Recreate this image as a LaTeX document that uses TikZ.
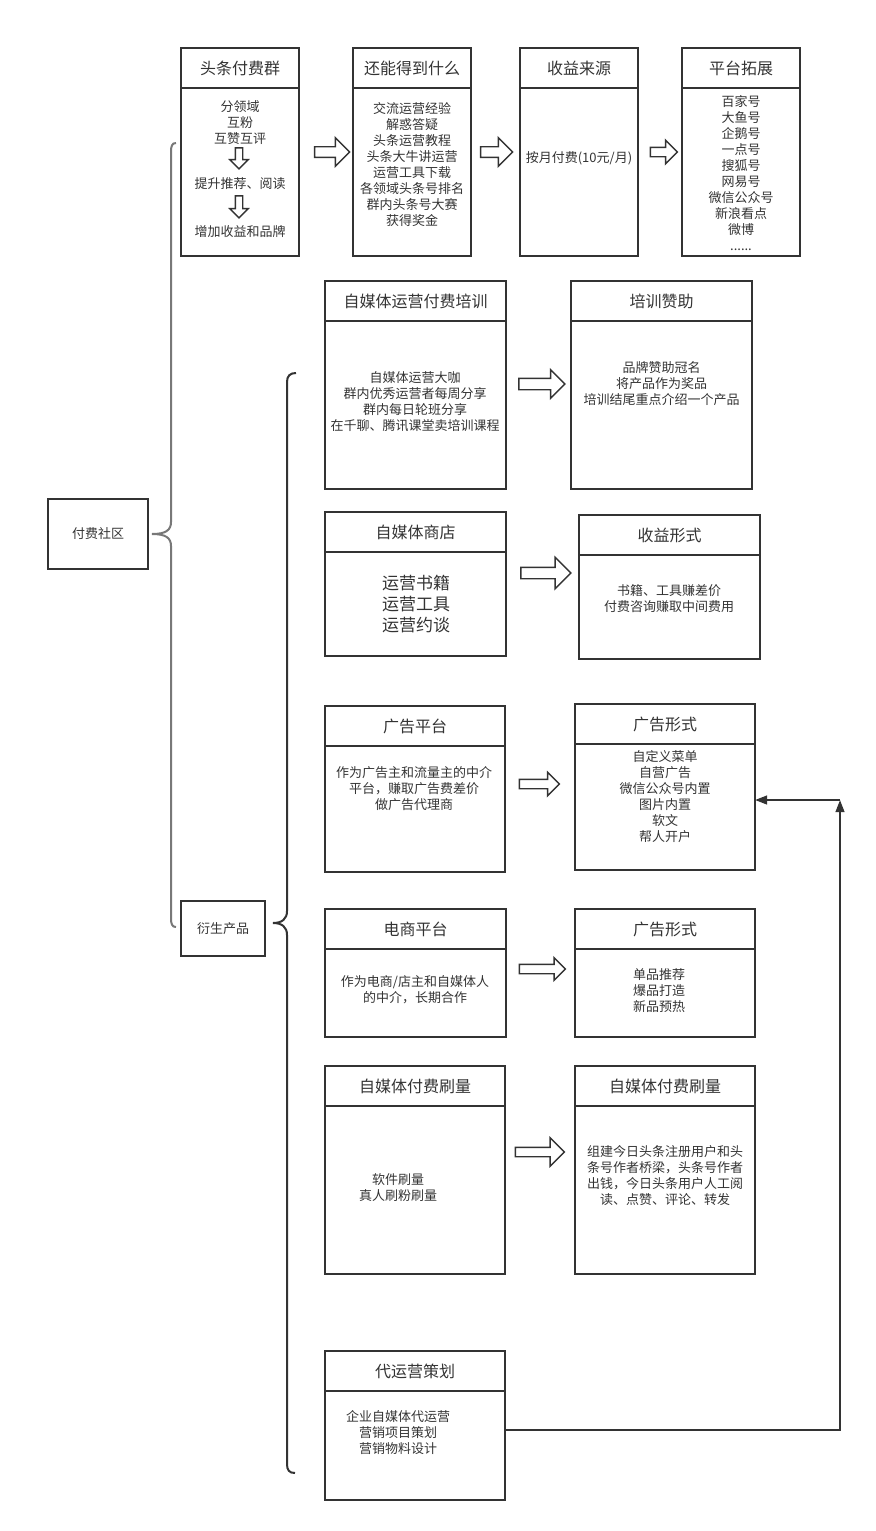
\documentclass[tikz,border=0pt]{standalone}
\usepackage{fontspec}
\setmainfont{Noto Sans CJK SC}
\usetikzlibrary{shapes.arrows, arrows.meta, positioning}
\definecolor{linegray}{RGB}{51, 51, 51}
\definecolor{bracegray}{RGB}{120, 120, 120}
\definecolor{textgray}{RGB}{51, 51, 51}

\begin{document}
\begin{tikzpicture}[x=0.75pt, y=-0.75pt,
  head/.style={draw=linegray, line width=1.5pt, minimum height=30pt, inner sep=0pt, outer sep=0pt, text=textgray, font=\fontsize{12}{14}\selectfont},
  panel/.style={draw=linegray, line width=1.5pt, inner sep=0pt, outer sep=0pt},
  txt/.style={text=textgray, align=center, inner sep=0pt, font=\fontsize{9.75}{12}\selectfont},
  hollow/.style={single arrow, draw=linegray, line width=1.1pt, fill=white, inner sep=0pt},
  link/.style={draw=linegray, line width=1.5pt, -{Triangle[length=9pt, width=6.5pt]}}]
  \useasboundingbox (0,0) rectangle (875,1531);

  % Root and branch
  \node[panel, minimum width=75pt, minimum height=52.5pt, txt] (ffsq) at (98,534) {付费社区};
  \node[panel, minimum width=63pt, minimum height=41.25pt, txt] (yscp) at (223,928.5) {衍生产品};

  % Braces
  \draw[bracegray, line width=1.5pt] (176,143) .. controls (172,143) and (171,146) .. (171,152) -- (171,522) .. controls (171,530) and (166,534) .. (152,534) .. controls (166,534) and (171,538) .. (171,546) -- (171,918) .. controls (171,924) and (172,927) .. (176,927);
  \draw[linegray, line width=1.5pt] (296,373) .. controls (290,373) and (287,376) .. (287,382) -- (287,911) .. controls (287,919) and (282,923) .. (273,923) .. controls (282,923) and (287,927) .. (287,935) -- (287,1464) .. controls (287,1470) and (289,1473) .. (295,1473);

  % Top row
  \node[head, minimum width=88.5pt] (ttff) at (240,68) {头条付费群};
  \node[panel, minimum width=88.5pt, minimum height=126pt, below=0pt of ttff] (ttff-b) {};
  \node[txt] (ttff-1) at (240,122.5) {分领域\\互粉\\互赞互评};
  \node[hollow, rotate=-90, minimum height=15.75pt, inner ysep=2.25pt, single arrow head extend=4.1pt] (ttff-d1) at (239,156.5) {};
  \node[txt] (ttff-2) at (240,184) {提升推荐、阅读};
  \node[hollow, rotate=-90, minimum height=16.5pt, inner ysep=2.25pt, single arrow head extend=4.1pt] (ttff-d2) at (239,205) {};
  \node[txt] (ttff-3) at (240,232) {增加收益和品牌};

  \node[head, minimum width=88.5pt] (hndd) at (412,68) {还能得到什么};
  \node[panel, minimum width=88.5pt, minimum height=126pt, below=0pt of hndd] (hndd-b) {};
  \node[txt] (hndd-t) at (412,165) {交流运营经验\\解惑答疑\\头条运营教程\\头条大牛讲运营\\运营工具下载\\各领域头条号排名\\群内头条号大赛\\获得奖金};

  \node[head, minimum width=88.5pt] (sylv) at (579,68) {收益来源};
  \node[panel, minimum width=88.5pt, minimum height=126pt, below=0pt of sylv] (sylv-b) {};
  \node[txt] (sylv-t) at (579,158) {按月付费(10元/月)};

  \node[head, minimum width=88.5pt] (ptkz) at (741,68) {平台拓展};
  \node[panel, minimum width=88.5pt, minimum height=126pt, below=0pt of ptkz] (ptkz-b) {};
  \node[txt] (ptkz-t) at (741,173) {百家号\\大鱼号\\企鹅号\\一点号\\搜狐号\\网易号\\微信公众号\\新浪看点\\微博\\......};

  \node[hollow, minimum height=26.25pt, inner ysep=3.4pt, single arrow head extend=6.75pt] (a-1) at (329.5,152) {};
  \node[hollow, minimum height=24pt, inner ysep=3.4pt, single arrow head extend=6.75pt] (a-2) at (494,152) {};
  \node[hollow, minimum height=20.25pt, inner ysep=3pt, single arrow head extend=5.25pt] (a-3) at (661.5,152) {};

  % Training
  \node[head, minimum width=135.75pt] (zmtpx) at (415.5,301) {自媒体运营付费培训};
  \node[panel, minimum width=135.75pt, minimum height=126pt, below=0pt of zmtpx] (zmtpx-b) {};
  \node[txt] (zmtpx-t) at (415,402) {自媒体运营大咖\\群内优秀运营者每周分享\\群内每日轮班分享\\在千聊、腾讯课堂卖培训课程};

  \node[head, minimum width=135.75pt] (pxzz) at (661.5,301) {培训赞助};
  \node[panel, minimum width=135.75pt, minimum height=126pt, below=0pt of pxzz] (pxzz-b) {};
  \node[txt] (pxzz-t) at (661.5,384) {品牌赞助冠名\\将产品作为奖品\\培训结尾重点介绍一个产品};

  \node[hollow, minimum height=34.5pt, inner ysep=3.75pt, single arrow head extend=6.4pt] (a-4) at (539,384) {};

  % Shop
  \node[head, minimum width=135.75pt] (zmtsd) at (415.5,532) {自媒体商店};
  \node[panel, minimum width=135.75pt, minimum height=78pt, below=0pt of zmtsd] (zmtsd-b) {};
  \node[txt, font=\fontsize{12.75}{15.75}\selectfont] (zmtsd-t) at (416,604) {运营书籍\\运营工具\\运营约谈};

  \node[head, minimum width=135.75pt] (syxs) at (669.5,535) {收益形式};
  \node[panel, minimum width=135.75pt, minimum height=78pt, below=0pt of syxs] (syxs-b) {};
  \node[txt] (syxs-t) at (669,599) {书籍、工具赚差价\\付费咨询赚取中间费用};

  \node[hollow, minimum height=37.5pt, inner ysep=3.75pt, single arrow head extend=7.5pt] (a-5) at (543,573) {};

  % Ads
  \node[head, minimum width=135pt] (ggpt) at (415,726) {广告平台};
  \node[panel, minimum width=135pt, minimum height=94.5pt, below=0pt of ggpt] (ggpt-b) {};
  \node[txt] (ggpt-t) at (414,789) {作为广告主和流量主的中介\\平台，赚取广告费差价\\做广告代理商};

  \node[head, minimum width=135pt] (ggxs) at (665,724) {广告形式};
  \node[panel, minimum width=135pt, minimum height=94.5pt, below=0pt of ggxs] (ggxs-b) {};
  \node[txt] (ggxs-t) at (665,797) {自定义菜单\\自营广告\\微信公众号内置\\图片内置\\软文\\帮人开户};

  \node[hollow, minimum height=30pt, inner ysep=3pt, single arrow head extend=5.25pt] (a-6) at (537,784) {};

  % E-commerce
  \node[head, minimum width=135.75pt] (dspt) at (415.5,929) {电商平台};
  \node[panel, minimum width=135.75pt, minimum height=66pt, below=0pt of dspt] (dspt-b) {};
  \node[txt] (dspt-t) at (415,990) {作为电商/店主和自媒体人\\的中介，长期合作};

  \node[head, minimum width=135pt] (dsxs) at (665,929) {广告形式};
  \node[panel, minimum width=135pt, minimum height=66pt, below=0pt of dsxs] (dsxs-b) {};
  \node[txt] (dsxs-t) at (659,991) {单品推荐\\爆品打造\\新品预热};

  \node[hollow, minimum height=34.5pt, inner ysep=3pt, single arrow head extend=4.9pt] (a-7) at (540,969) {};

  % Paid traffic
  \node[head, minimum width=135pt] (zmtsl) at (415,1086) {自媒体付费刷量};
  \node[panel, minimum width=135pt, minimum height=126pt, below=0pt of zmtsl] (zmtsl-b) {};
  \node[txt] (zmtsl-t) at (398,1188) {软件刷量\\真人刷粉刷量};

  \node[head, minimum width=135pt] (slfs) at (665,1086) {自媒体付费刷量};
  \node[panel, minimum width=135pt, minimum height=126pt, below=0pt of slfs] (slfs-b) {};
  \node[txt] (slfs-t) at (665,1176) {组建今日头条注册用户和头\\条号作者桥梁，头条号作者\\出钱，今日头条用户人工阅\\读、点赞、评论、转发};

  \node[hollow, minimum height=36.75pt, inner ysep=3pt, single arrow head extend=7.1pt] (a-8) at (537.5,1152) {};

  % Agency
  \node[head, minimum width=135pt] (dyy) at (415,1371) {代运营策划};
  \node[panel, minimum width=135pt, minimum height=81.75pt, below=0pt of dyy] (dyy-b) {};
  \node[txt] (dyy-t) at (398,1433) {企业自媒体代运营\\营销项目策划\\营销物料设计};

  % Link back to ad forms
  \coordinate (bend) at (840,800);
  \draw[link] (dyy-b.east |- 0,1430) -| (bend);
  \draw[link] (bend) -- (ggxs-b.east |- bend);
\end{tikzpicture}
\end{document}
